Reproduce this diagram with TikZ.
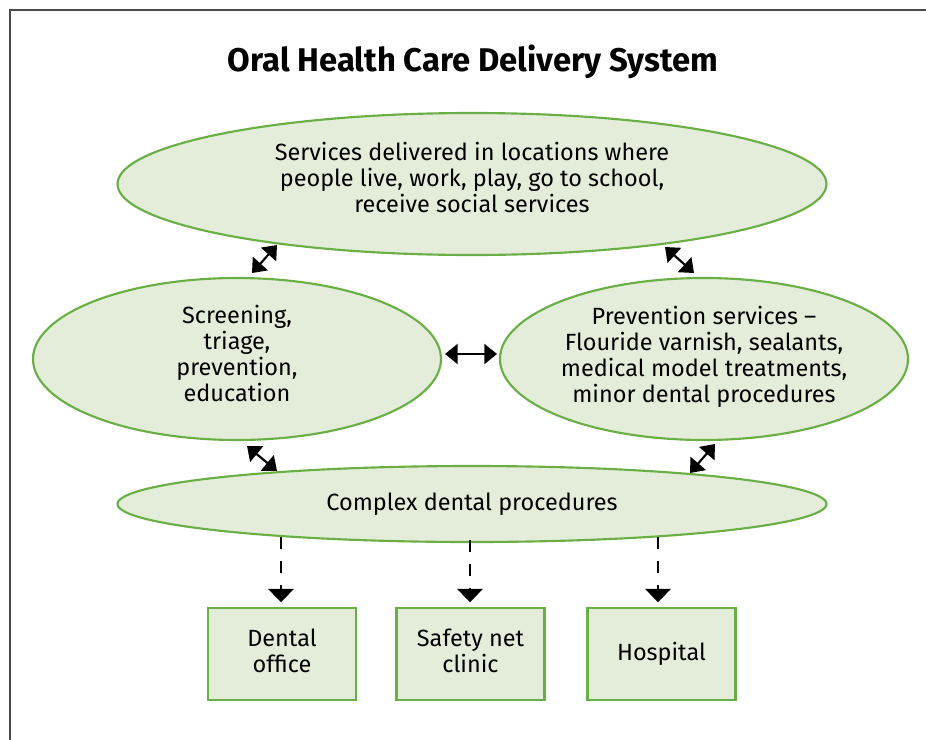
\documentclass[tikz,border=0pt]{standalone}
\usepackage{fontspec}
\setmainfont{Fira Sans}
\usetikzlibrary{positioning, arrows.meta, shapes.geometric}

\definecolor{leaf}{HTML}{6AAF45}
\definecolor{leaffill}{HTML}{E4EDD9}
\definecolor{framegray}{HTML}{4A4A4A}

\newcommand{\diagfont}{\fontsize{17.6}{19.5}\selectfont}
\newcommand{\headfont}{\fontsize{24.6}{28}\selectfont\bfseries}
% extra depth under the last line, lifts the text a little in its shape
\newcommand{\dropline}[1]{\rule[-#1]{0pt}{0pt}}

\begin{document}
\begin{tikzpicture}[
		x=0.75pt, y=-0.75pt,
		service/.style={ellipse, draw=leaf, fill=leaffill, line width=1.6pt, inner sep=0pt, align=center, font=\diagfont},
		site/.style={rectangle, draw=leaf, fill=leaffill, line width=1.6pt, inner sep=0pt, minimum width=111pt, minimum height=69pt, align=center, font=\diagfont},
		link/.style={{Triangle[length=9.5pt, width=15pt]}-{Triangle[length=9.5pt, width=15pt]}, line width=1.6pt},
		refer/.style={-{Triangle[length=10pt, width=19pt]}, line width=1.6pt, dash pattern=on 9pt off 9pt, shorten >=3.5pt}
	]

	\useasboundingbox (0,0) rectangle (926,740);
	\draw[framegray, line width=1.2pt] (10,760) -- (10,10) -- (940,10);

	\node[font=\headfont] (title) at (473,62) {Oral Health Care Delivery System};

	\node[service, minimum width=531.75pt, minimum height=106.5pt] (reach) at (472,184) {Services delivered in locations where\\people live, work, play, go to school,\\receive social services\dropline{10pt}};
	\node[service, minimum width=306pt, minimum height=121.5pt] (screen) at (237,359) {Screening,\\triage,\\prevention,\\education\dropline{9pt}};
	\node[service, minimum width=306pt, minimum height=121.5pt] (prevent) at (704,359) {Prevention services –\\Flouride varnish, sealants,\\medical model treatments,\\minor dental procedures\dropline{7.5pt}};
	\node[service, minimum width=531.75pt, minimum height=57pt] (complex) at (472,504) {Complex dental procedures};

	\node[site] (office) at (282,654) {Dental\\office\dropline{5pt}};
	\node[site] (safety) at (470.5,654) {Safety net\\clinic\dropline{5pt}};
	\node[site] (hospital) at (661.5,654) {Hospital};

	% two-way links, ends given as offsets from the node centres
	\foreach \a/\p/\b/\q in {screen/{15,-86}/reach/{-195,61}, reach/{193,63}/prevent/{-10,-86}, screen/{208,-5}/prevent/{-207,-5}, screen/{10,87}/complex/{-195,-33}, prevent/{11,85}/complex/{218,-31}}
		\draw[link] ([shift={(\p)}]\a.center) -- ([shift={(\q)}]\b.center);

	% dashed arrows down to the places of care
	\foreach \n/\d in {office/{-191,33}, safety/{-2,36}, hospital/{186,33}} {
		\coordinate (from-\n) at ([shift={(\d)}]complex.center);
		\draw[refer] (from-\n) -- (from-\n |- \n.north);
	}

\end{tikzpicture}
\end{document}
